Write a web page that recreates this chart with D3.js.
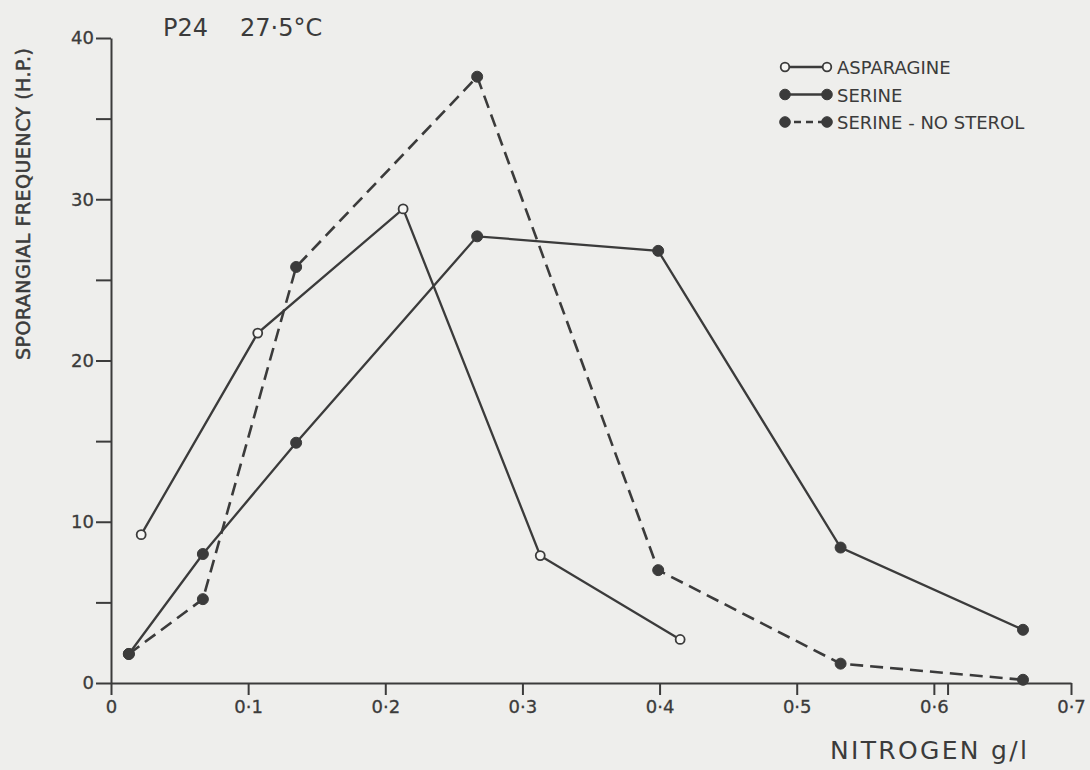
<!DOCTYPE html>
<meta charset="UTF-8">
<html>
<head>
<script src="https://d3js.org/d3.v7.min.js"></script>
<style>
  body { margin: 0; background: #eeeeec; }
  svg { display: block; }
  text { font-family: "DejaVu Sans", "Liberation Sans", sans-serif; fill: #3b3b3b; }
  .axis path, .axis line { stroke: #3b3b3b; stroke-width: 2; }
  .axis text { font-size: 18px; fill: #3b3b3b; font-family: "DejaVu Sans", sans-serif; }
</style>
</head>
<body>
<svg id="chart" width="1090" height="770"></svg>
<script>
// data (nitrogen g/l vs sporangial frequency)
var asparagineX = [0.022, 0.107, 0.213, 0.313, 0.415];
var asparagineY = [9.2, 21.7, 29.4, 7.9, 2.7];

var serineX = [0.013, 0.067, 0.135, 0.267, 0.399, 0.532, 0.665];
var serineY = [1.8, 8.0, 14.9, 27.7, 26.8, 8.4, 3.3];

var noSterolX = [0.013, 0.067, 0.135, 0.267, 0.399, 0.532, 0.665];
var noSterolY = [1.8, 5.2, 25.8, 37.6, 7.0, 1.2, 0.2];

var xTicks = [0, 0.1, 0.2, 0.3, 0.4, 0.5, 0.6, 0.7];
var xTickLabels = ["0", "0·1", "0·2", "0·3", "0·4", "0·5", "0·6", "0·7"];
var xExtraTicks = [0.61];
var yTicks = [0, 5, 10, 15, 20, 25, 30, 35, 40];
var yTickLabels = ["0", "", "10", "", "20", "", "30", "", "40"];

var legendNames = ["ASPARAGINE", "SERINE", "SERINE - NO STEROL"];

var ink = "#3b3b3b";
var svg = d3.select("#chart");

var x = d3.scaleLinear().domain([0, 0.7]).range([111, 1071]);
var y = d3.scaleLinear().domain([0, 40]).range([683, 38]);

// axes
var xAxis = d3.axisBottom(x)
  .tickValues(xTicks)
  .tickSize(12)
  .tickSizeOuter(0)
  .tickPadding(5)
  .tickFormat(function (d, i) { return xTickLabels[i]; });
svg.append("g").attr("class", "axis").attr("transform", "translate(0," + y(0) + ")").call(xAxis);

svg.append("g").attr("class", "axis").attr("transform", "translate(0," + y(0) + ")")
  .call(d3.axisBottom(x).tickValues(xExtraTicks).tickSize(12).tickSizeOuter(0).tickFormat(""))
  .select(".domain").remove();

var yAxis = d3.axisLeft(y)
  .tickValues(yTicks)
  .tickSize(15)
  .tickSizeOuter(0)
  .tickPadding(2)
  .tickFormat(function (d, i) { return yTickLabels[i]; });
svg.append("g").attr("class", "axis").attr("transform", "translate(" + x(0) + ",0)").call(yAxis);

svg.selectAll(".axis text").attr("stroke", ink).attr("stroke-width", 0.3);

// series
var series = [
  { name: legendNames[0], xs: asparagineX, ys: asparagineY, open: true, dash: null },
  { name: legendNames[1], xs: serineX, ys: serineY, open: false, dash: null },
  { name: legendNames[2], xs: noSterolX, ys: noSterolY, open: false, dash: "13,7" }
];

var line = d3.line()
  .x(function (d) { return x(d[0]); })
  .y(function (d) { return y(d[1]); });

series.forEach(function (s) {
  var pts = s.xs.map(function (v, i) { return [v, s.ys[i]]; });
  svg.append("path")
    .attr("d", line(pts))
    .attr("fill", "none")
    .attr("stroke", ink)
    .attr("stroke-width", s.dash ? 2.6 : 2.3)
    .attr("stroke-dasharray", s.dash);
  svg.selectAll(null)
    .data(pts)
    .enter()
    .append("circle")
    .attr("cx", function (d) { return x(d[0]); })
    .attr("cy", function (d) { return y(d[1]); })
    .attr("r", s.open ? 4.5 : 5.5)
    .attr("fill", s.open ? "#f6f6f4" : ink)
    .attr("stroke", ink)
    .attr("stroke-width", s.open ? 1.8 : 1);
});

// legend
var legend = svg.append("g").attr("transform", "translate(785,67)");
series.forEach(function (s, i) {
  var g = legend.append("g").attr("transform", "translate(0," + (i * 27.5) + ")");
  g.append("line")
    .attr("x1", 0).attr("x2", 42)
    .attr("stroke", ink).attr("stroke-width", 2.4)
    .attr("stroke-dasharray", s.dash ? "7,5" : null)
    .attr("stroke-dashoffset", s.dash ? -9 : 0);
  [0, 42].forEach(function (cx) {
    g.append("circle")
      .attr("cx", cx).attr("r", s.open ? 4.3 : 5.3)
      .attr("fill", s.open ? "#f6f6f4" : ink)
      .attr("stroke", ink).attr("stroke-width", s.open ? 1.8 : 1);
  });
  g.append("text")
    .attr("x", 52).attr("y", 7)
    .style("font-size", "18px")
    .text(s.name);
});

// title and axis labels
svg.append("text").attr("x", 163).attr("y", 36).style("font-size", "24px").text("P24");
svg.append("text").attr("x", 240).attr("y", 36).style("font-size", "24px").text("27·5°C");

svg.append("text")
  .attr("transform", "translate(30,204) rotate(-90)")
  .attr("text-anchor", "middle")
  .attr("textLength", 312)
  .attr("lengthAdjust", "spacing")
  .attr("stroke", ink)
  .attr("stroke-width", 0.5)
  .style("font-size", "19px")
  .text("SPORANGIAL  FREQUENCY  (H.P.)");

svg.append("text")
  .attr("x", 830).attr("y", 759)
  .attr("textLength", 197)
  .attr("lengthAdjust", "spacing")
  .style("font-size", "25px")
  .text("NITROGEN  g/l");
</script>
</body>
</html>
